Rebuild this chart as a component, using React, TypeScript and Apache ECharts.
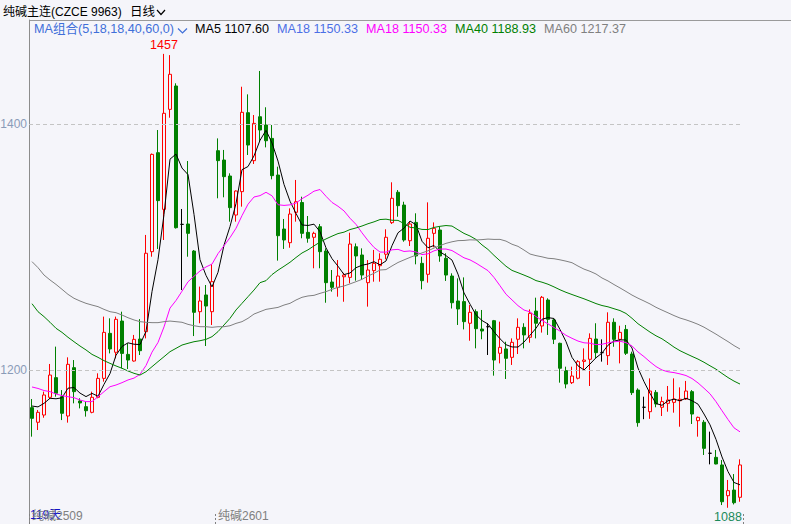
import React, { useEffect, useRef } from 'react';
import * as echarts from 'echarts';

// ---- Data ----
const opens = [
  1169.4, 1157.5, 1163.4, 1177.8, 1193.8, 1178.3, 1162.6, 1201.9, 1174.8, 1170.2,
  1165.6, 1177.8, 1193.2, 1229.8, 1214.4, 1239.8, 1212.7, 1207.3, 1225.2, 1231.1,
  1296.2, 1376.7, 1330.6, 1411.9, 1430.9, 1318.4, 1318.7, 1296.7, 1247.4, 1261,
  1247.4, 1378.3, 1370.7, 1357.7, 1326, 1345, 1409.2, 1370.2, 1405.9, 1399.2,
  1388.3, 1358.5, 1314.6, 1303.5, 1328.2, 1336.2, 1311.9, 1307.9, 1316.5, 1296.7,
  1271.5, 1267.2, 1275.8, 1275.3, 1300.2, 1293.5, 1271, 1280.8, 1284.8, 1294.1,
  1319.8, 1344.5, 1334.1, 1305.1, 1320, 1286.7, 1277.8, 1311.1, 1313.8, 1290.8,
  1276.4, 1256.1, 1255.6, 1238, 1247.4, 1233.3, 1235.2, 1240.1, 1213.6, 1217.1,
  1210.3, 1225, 1234.7, 1226.6, 1247.9, 1235.8, 1256.9, 1240.7, 1221.7, 1199.5,
  1189.7, 1193.3, 1207, 1208.7, 1225.2, 1214.1, 1211.7, 1238.8, 1224.9, 1233,
  1213, 1183.7, 1169.7, 1166.1, 1181.8, 1169.7, 1172.9, 1173.7, 1175, 1176.4,
  1182.4, 1158.8, 1157.5, 1132.3, 1129, 1122.8, 1097.8, 1102.4, 1096.5,
];
const closes = [
  1160.7, 1165.6, 1179.7, 1195.9, 1181.1, 1164.8, 1204.6, 1182.4, 1173.2, 1166.9,
  1177.8, 1193.2, 1230.6, 1217.1, 1241.2, 1213.5, 1208.1, 1224.9, 1215.7, 1294.9,
  1375.3, 1337.7, 1408.7, 1440.4, 1315.7, 1318.4, 1311.1, 1246.9, 1256.1, 1252,
  1271.8, 1370.2, 1357.2, 1332, 1345.5, 1409.5, 1382.9, 1400.5, 1395.1, 1386.4,
  1358, 1309.2, 1305.7, 1326.8, 1336.8, 1311.1, 1307.1, 1311.1, 1296.2, 1271,
  1267.2, 1276.4, 1277.2, 1302.4, 1292.7, 1277.2, 1281.3, 1286.7, 1290, 1307.9,
  1339.6, 1333.6, 1305.7, 1318.7, 1292.7, 1272.6, 1307.1, 1315.2, 1292.7, 1277.2,
  1254.7, 1249.6, 1239.3, 1246.9, 1233.6, 1231.7, 1235.2, 1208.1, 1218.4, 1209.5,
  1222.5, 1234.7, 1228.5, 1246.1, 1238, 1259.1, 1241.2, 1225, 1201.4, 1188.6,
  1195.1, 1206.8, 1208.1, 1225.7, 1214.1, 1214.1, 1238.8, 1224.9, 1230.6, 1213.6,
  1181.6, 1157.2, 1169.7, 1182.9, 1172.4, 1174.3, 1175.6, 1176.4, 1176.2, 1182.9,
  1164.2, 1161.5, 1136.3, 1132.3, 1123.6, 1092.9, 1101.9, 1092.1, 1122.8,
];
const lows = [
  1145.8, 1151.2, 1161.2, 1176.4, 1178.3, 1159.3, 1157.2, 1172.9, 1168.8, 1162.1,
  1164.8, 1177, 1190.5, 1213.5, 1209.5, 1201.4, 1200.8, 1206.8, 1212.2, 1225.7,
  1292.1, 1298.4, 1305.7, 1405.1, 1315, 1265, 1292.1, 1227.6, 1238, 1219.5,
  1236.6, 1339.6, 1340.4, 1320.6, 1320.6, 1332.8, 1374.8, 1367.5, 1385.6, 1381,
  1355, 1288.9, 1298.4, 1299.4, 1320.6, 1307.1, 1303.5, 1282.7, 1282.7, 1254.7,
  1263.7, 1259.6, 1255.5, 1270.5, 1272.6, 1273.2, 1251.5, 1271.8, 1271.8, 1290,
  1318.7, 1324.6, 1304.3, 1300.8, 1285.9, 1265.6, 1271, 1299.8, 1288, 1272.4,
  1250, 1236.6, 1233, 1223.8, 1217.6, 1225, 1212.2, 1195.4, 1205.4, 1192.7,
  1204.1, 1213, 1217.6, 1222.2, 1225.7, 1230.4, 1228.5, 1221.1, 1189.7, 1185.1,
  1188.6, 1192.4, 1200, 1187, 1209.5, 1206.8, 1204.1, 1218.9, 1205.4, 1212.2,
  1179.7, 1153.9, 1160, 1160.3, 1169.7, 1162.6, 1166.1, 1165.3, 1153.9, 1175.6,
  1156.1, 1145.8, 1130.9, 1123.3, 1123.3, 1090.2, 1088, 1090.7, 1092.9,
];
const highs = [
  1176.4, 1167.5, 1182.4, 1204.9, 1219, 1183.7, 1210.3, 1208.1, 1177, 1174.3,
  1182.4, 1197.3, 1243.4, 1242, 1243.4, 1247.4, 1221.7, 1228.5, 1241.4, 1309.8,
  1376, 1395.1, 1457, 1456, 1433.1, 1330.9, 1369.9, 1297.5, 1267.8, 1269.1,
  1286.2, 1388.3, 1378.9, 1359.9, 1346, 1430.3, 1424.1, 1407.3, 1443.1, 1413.6,
  1399.2, 1365.3, 1322.8, 1331.4, 1354.5, 1340.9, 1325.2, 1312.4, 1318.7, 1298.9,
  1281.3, 1289.4, 1279, 1311.6, 1302.9, 1298.9, 1289.4, 1297.6, 1294.9, 1314.4,
  1352.6, 1346.3, 1336.8, 1320.6, 1327.4, 1292.1, 1336.3, 1320, 1316.5, 1294.9,
  1278.6, 1274.5, 1275.3, 1252.8, 1249.3, 1248.8, 1238, 1240.7, 1239.3, 1223,
  1225.7, 1242, 1238, 1249.3, 1258.8, 1260.2, 1258.3, 1241.5, 1222.2, 1202.7,
  1202.7, 1208.1, 1217.6, 1229.8, 1238, 1224.9, 1246.9, 1242, 1236, 1236.6,
  1214.9, 1185.1, 1178.3, 1193.2, 1183.7, 1178.3, 1187, 1193.2, 1185.9, 1191.1,
  1183.7, 1162.1, 1159.3, 1149.9, 1135, 1126.8, 1110.6, 1115.4, 1127.4,
];
// candles drawn as black crosses (open == close)
const dojiIdx = [25, 76, 95, 102, 113];

// MA values visible before enough in-window closes exist
const ma5Head = [1170.7, 1170, 1172.9, 1177];
const ma18Head = [
  1186.2, 1185, 1183.3, 1182.4, 1180.5, 1179.2, 1178.3, 1177.5, 1175.6, 1174.3,
  1174.3, 1178.3, 1182.4, 1186.4, 1187.8, 1189.7, 1191.9,
];
const ma40Head = [
  1253.9, 1247.4, 1243.4, 1238.8, 1233.9, 1230.6, 1226.6, 1223, 1219.5, 1216.3,
  1212.7, 1210.3, 1207.6, 1205.4, 1203.3, 1201.4, 1199.2, 1197.3, 1195.9, 1198.6,
  1202.7, 1206.8, 1210.8, 1214.9, 1217.6, 1220.3, 1221.7, 1223, 1223.8, 1224.9,
  1227.1, 1231.2, 1236.6, 1242, 1248.8, 1254.2, 1259.6, 1265, 1271,
];
const ma60Head = [
  1288.1, 1283.2, 1277.2, 1273.2, 1269.6, 1265.6, 1261.5, 1258.3, 1256.1, 1254.2,
  1252.8, 1251.5, 1249.3, 1247.4, 1246.6, 1244.7, 1242.5, 1240.7, 1239.3, 1238.8,
  1238.5, 1238.5, 1239.3, 1239.8, 1239.3, 1238.8, 1237.1, 1236, 1235.2, 1235.2,
  1234.7, 1235.2, 1235.2, 1236, 1237.9, 1239.3, 1242, 1245.5, 1247.4, 1249.3,
  1250.1, 1250.9, 1252.8, 1254.2, 1256.9, 1259.1, 1260.2, 1260.7, 1262.3, 1263.7,
  1265.6, 1267.2, 1268.3, 1270, 1271.8, 1273.7, 1276.4, 1278.6, 1281.3,
];

const yTicks = [1200, 1400];
const contractNames = ['纯碱2509', '纯碱2601'];
const contractStarts = [0, 31];
const titleText = '纯碱主连(CZCE 9963)';
const periodText = '日线';
const comboText = 'MA组合(5,18,18,40,60,0)';
const legendTexts = ['MA5 1107.60', 'MA18 1150.33', 'MA18 1150.33', 'MA40 1188.93', 'MA60 1217.37'];

const categories = closes.map((_, i) => `D${i + 1}`);

const FONT = 'Arial, "Liberation Sans", "Noto Sans CJK SC", sans-serif';
const BG = '#f5f5fa';
const UP = '#ff0000';
const DOWN = '#008000';

function movingAverage(n: number, head: number[]): number[] {
  return closes.map((_, i) => {
    if (i < n - 1) return head[i];
    let s = 0;
    for (let k = i - n + 1; k <= i; k++) s += closes[k];
    return +(s / n).toFixed(2);
  });
}

export default function App() {
  const ref = useRef<HTMLDivElement>(null);

  useEffect(() => {
    if (!ref.current) return;
    const chart = echarts.init(ref.current, null, { renderer: 'svg' });

    const doji = new Set(dojiIdx);
    const candleData = closes.map((c, i) => {
      const v = [opens[i], c, lows[i], highs[i]];
      if (doji.has(i)) {
        return {
          value: v,
          itemStyle: { color: '#000', color0: '#000', borderColor: '#000', borderColor0: '#000' },
        };
      }
      return { value: v };
    });

    let maxI = 0;
    let minI = 0;
    highs.forEach((h, i) => { if (h > highs[maxI]) maxI = i; });
    lows.forEach((l, i) => { if (l < lows[minI]) minI = i; });

    const ma5 = movingAverage(5, ma5Head);
    const ma18 = movingAverage(18, ma18Head);
    const ma40 = movingAverage(40, ma40Head);
    const ma60 = movingAverage(60, ma60Head);

    const contractMap: Record<number, string> = {};
    contractStarts.forEach((idx, k) => { contractMap[idx] = contractNames[k]; });

    const legendColors = ['#000000', '#4b6fe6', '#ff00ff', '#008000', '#808080'];
    const legendX = [195, 277, 366, 455, 544];

    const txt = (text: string, x: number, y: number, fill: string, size = 12, extra: any = {}) => ({
      type: 'text',
      x,
      y,
      silent: true,
      style: {
        text,
        fill,
        font: `${size}px ${FONT}`,
        align: 'left',
        textAlign: 'left',
        verticalAlign: 'middle',
        textVerticalAlign: 'middle',
        ...extra,
      },
    });

    const lineSeries = (name: string, data: number[], color: string) => ({
      name,
      type: 'line',
      data,
      symbol: 'none',
      silent: true,
      smooth: false,
      lineStyle: { color, width: 1 },
      itemStyle: { color },
      z: 3,
    });

    chart.setOption({
      animation: false,
      backgroundColor: BG,
      grid: { left: 29, right: 48, top: 20, bottom: 0, containLabel: false },
      xAxis: {
        type: 'category',
        data: categories,
        boundaryGap: true,
        axisLine: { show: false },
        splitLine: { show: false },
        axisTick: {
          show: true,
          inside: true,
          length: 10,
          interval: (i: number) => contractMap[i] !== undefined,
          lineStyle: { color: '#808080', type: [2, 2] },
        },
        axisLabel: {
          show: true,
          inside: true,
          interval: (i: number) => contractMap[i] !== undefined,
          formatter: (_v: string, i: number) => contractMap[i] || '',
          align: 'left',
          margin: 2,
          color: '#808080',
          fontSize: 12,
          fontFamily: FONT,
        },
      },
      yAxis: {
        type: 'value',
        min: 1074.8,
        max: 1484.55,
        axisLine: { show: true, lineStyle: { color: '#8c8c8c', width: 1 } },
        axisTick: { show: false },
        axisLabel: { show: false },
        splitLine: { show: false },
      },
      series: [
        {
          name: 'K',
          type: 'candlestick',
          data: candleData,
          barWidth: 4,
          silent: true,
          itemStyle: {
            color: 'rgba(0,0,0,0)',
            color0: DOWN,
            borderColor: UP,
            borderColor0: DOWN,
            borderWidth: 1,
          },
          markLine: {
            silent: true,
            symbol: 'none',
            animation: false,
            lineStyle: { color: '#c4c4c4', type: [4, 3], width: 1 },
            label: {
              show: true,
              position: 'start',
              distance: 2,
              color: '#8a9bb8',
              fontSize: 12,
              fontFamily: FONT,
              formatter: (p: any) => String(p.value),
            },
            data: yTicks.map((t) => ({ yAxis: t })),
          },
          markPoint: {
            silent: true,
            animation: false,
            symbol: 'circle',
            symbolSize: 1,
            itemStyle: { color: 'rgba(0,0,0,0)' },
            label: {
              show: true,
              fontSize: 12.5,
              fontFamily: FONT,
              formatter: (p: any) => String(Math.round(p.value)),
            },
            data: [
              {
                coord: [categories[maxI], highs[maxI]],
                value: highs[maxI],
                label: { position: 'top', distance: 2, color: UP },
              },
              {
                coord: [categories[minI], lows[minI]],
                value: lows[minI],
                label: { position: 'bottom', distance: 2, color: '#1b8a5a' },
              },
            ],
          },
        },
        lineSeries('MA5', ma5, '#000000'),
        lineSeries('MA18', ma18, '#ff00ff'),
        lineSeries('MA40', ma40, '#008000'),
        lineSeries('MA60', ma60, '#808080'),
      ],
      graphic: [
        {
          type: 'line',
          silent: true,
          shape: { x1: 29, y1: 20.5, x2: 791, y2: 20.5 },
          style: { stroke: '#9a9a9a', lineWidth: 1 },
        },
        txt(titleText, 3, 12, '#000000', 12),
        txt(periodText, 130, 12, '#000000', 12.5),
        {
          type: 'polyline',
          silent: true,
          shape: { points: [[157, 10], [161, 14.5], [165, 10]] },
          style: { stroke: '#000000', fill: null, lineWidth: 1.2 },
        },
        txt(comboText, 34, 29, '#3f6fd9', 12.6),
        {
          type: 'polyline',
          silent: true,
          shape: { points: [[178, 28.5], [182.5, 33], [187, 28.5]] },
          style: { stroke: '#3f6fd9', fill: null, lineWidth: 1.2 },
        },
        ...legendTexts.map((t, k) => txt(t, legendX[k], 29, legendColors[k], 12.6)),
        txt(`${categories.length}天`, 30, 515, '#1010cc', 12),
      ],
    });

    return () => chart.dispose();
  }, []);

  return (
    <div
      ref={ref}
      style={{ position: 'fixed', left: 0, top: 0, width: 791, height: 524, background: BG }}
    />
  );
}
